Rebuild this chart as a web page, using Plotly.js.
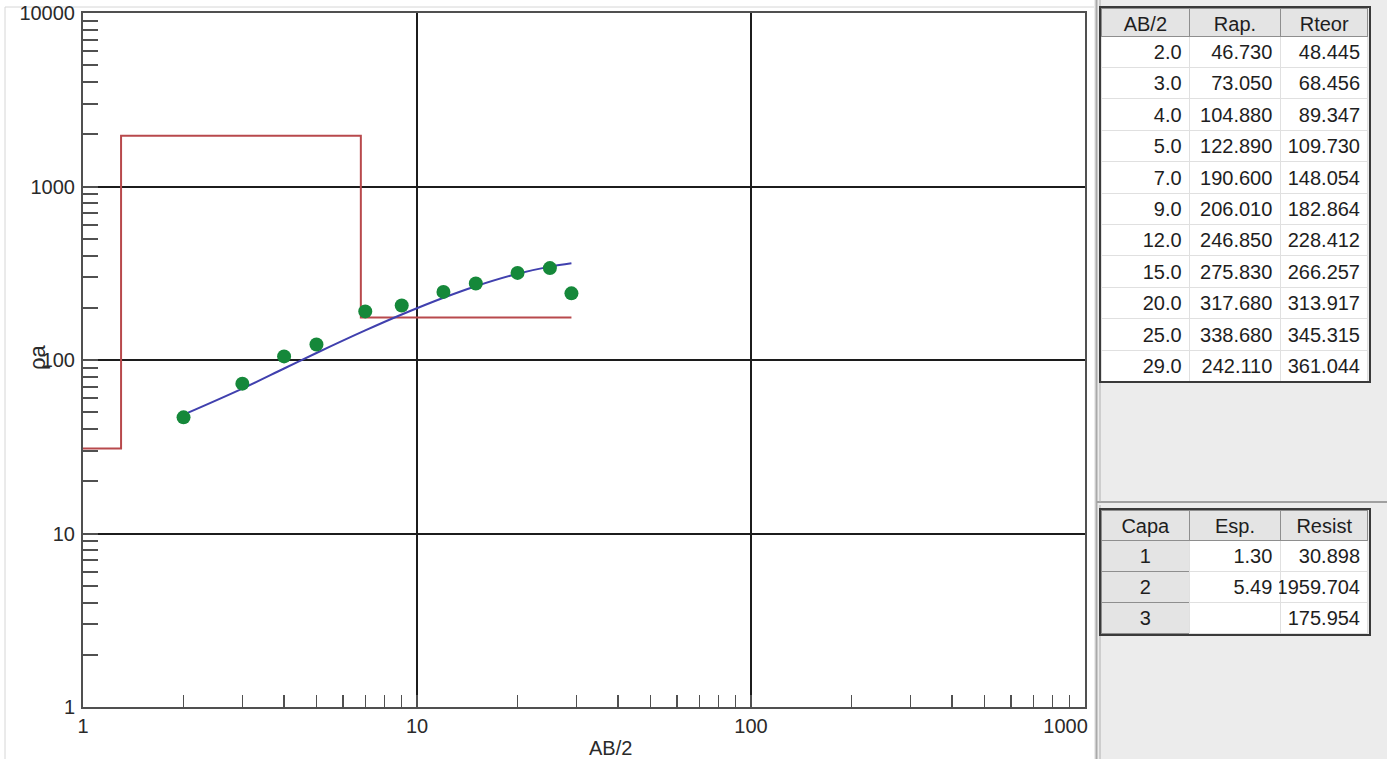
<!DOCTYPE html>
<html>
<head>
<meta charset="utf-8">
<script src="https://cdn.plot.ly/plotly-3.0.1.min.js"></script>
<style>
html,body{margin:0;padding:0;background:#ffffff;}
#chart{width:1387px;height:759px;}
</style>
</head>
<body>
<div id="chart"></div>
<script>
// ---- data ----
const ab2   = [2.0, 3.0, 4.0, 5.0, 7.0, 9.0, 12.0, 15.0, 20.0, 25.0, 29.0];
const rap   = [46.730, 73.050, 104.880, 122.890, 190.600, 206.010, 246.850, 275.830, 317.680, 338.680, 242.110];
const rteor = [48.445, 68.456, 89.347, 109.730, 148.054, 182.864, 228.412, 266.257, 313.917, 345.315, 361.044];

const capa   = [1, 2, 3];
const esp    = [1.30, 5.49, null];
const resist = [30.898, 1959.704, 175.954];

const tableHeaders1 = ['AB/2', 'Rap.', 'Rteor'];
const tableHeaders2 = ['Capa', 'Esp.', 'Resist'];

const xTickVals  = [1, 10, 100, 1000];
const xTickText  = ['1', '10', '100', '1000'];
const yTickVals  = [1, 10, 100, 1000, 10000];
const yTickText  = ['1', '10', '100', '1000', '10000'];
const xTitle = 'AB/2';
const yTitle = 'ρa';

// ---- layer model as a step curve (depth boundaries from thicknesses) ----
const xStart = 1;
const depths = [];
let acc = 0;
esp.forEach(e => { if (e != null) { acc += e; depths.push(acc); } });
const stepX = [xStart], stepY = [resist[0]];
depths.forEach((d, i) => { stepX.push(d, d); stepY.push(resist[i], resist[i + 1]); });
stepX.push(ab2[ab2.length - 1]); stepY.push(resist[resist.length - 1]);

// ---- layout helpers (pixel -> paper) ----
const ML = 83, MR = 0, MT = 0, MB = 52;
const PW = 1387 - ML - MR, PH = 759 - MT - MB;
const px = x => (x - ML) / PW;
const py = y => (PH + MT - y) / PH;

const FONT = 'Liberation Sans, Arial, sans-serif';
const tickFont = {family: FONT, size: 20, color: '#2a2a2a'};
const cellFont = {family: FONT, size: 20, color: '#1e1e1e'};
const NB = '\u00a0';

const traces = [
  {
    type: 'scatter', mode: 'lines', x: stepX, y: stepY,
    line: {color: '#b8494c', width: 2}, hoverinfo: 'skip', name: 'Modelo'
  },
  {
    type: 'scatter', mode: 'lines', x: ab2, y: rteor,
    line: {color: '#4040ae', width: 2, shape: 'spline'}, name: 'Rteor'
  },
  {
    type: 'scatter', mode: 'markers', x: ab2, y: rap,
    marker: {color: '#15883a', size: 14}, name: 'Rap.'
  },
  {
    type: 'table',
    domain: {x: [px(1101), px(1369)], y: [py(420), py(8)]},
    columnwidth: [89, 91, 88],
    header: {
      values: tableHeaders1, height: 28, align: 'center',
      fill: {color: '#e4e4e4'}, line: {color: '#8e8e8e', width: 1}, font: cellFont
    },
    cells: {
      values: [ab2.map(v => v.toFixed(1)), rap.map(v => v.toFixed(3)), rteor.map(v => v.toFixed(3))],
      height: 31.4, align: 'right',
      fill: {color: '#ffffff'}, line: {color: '#e0e0e0', width: 1}, font: cellFont
    }
  },
  {
    type: 'table',
    domain: {x: [px(1101), px(1369)], y: [py(700), py(510)]},
    columnwidth: [89, 91, 88],
    header: {
      values: tableHeaders2, height: 30, align: 'center',
      fill: {color: '#e4e4e4'}, line: {color: '#8e8e8e', width: 1}, font: cellFont
    },
    cells: {
      values: [capa.map(String), esp.map(v => v == null ? '' : v.toFixed(2)), resist.map(v => v.toFixed(3))],
      height: 31, align: ['center', 'right', 'right'],
      fill: {color: [capa.map(() => '#e4e4e4'), capa.map(() => '#ffffff'), capa.map(() => '#ffffff')]},
      line: {color: [capa.map(() => '#8e8e8e'), capa.map(() => '#e0e0e0'), capa.map(() => '#e0e0e0')], width: 1},
      font: cellFont
    }
  }
];

const axisCommon = {
  type: 'log', tickmode: 'array',
  showline: true, linecolor: '#505050', linewidth: 2, mirror: true,
  ticks: 'inside', tickwidth: 2, tickcolor: '#505050',
  showgrid: true, gridcolor: '#1c1c1c', gridwidth: 2, zeroline: false,
  tickfont: tickFont, fixedrange: true
};

const layout = {
  width: 1387, height: 759,
  margin: {l: ML, r: MR, t: MT, b: MB, pad: 0},
  paper_bgcolor: '#ffffff', plot_bgcolor: '#ffffff',
  showlegend: false,
  xaxis: Object.assign({}, axisCommon, {
    range: [0, 3], domain: [0, px(1085)], anchor: 'y', ticklen: 12,
    tickvals: xTickVals,
    ticktext: xTickText.map((t, i) => i === xTickText.length - 1 ? t + NB.repeat(7) : t),
    minor: {dtick: 'D1', ticks: 'inside', ticklen: 12, tickwidth: 1.5, tickcolor: '#505050', showgrid: false}
  }),
  yaxis: Object.assign({}, axisCommon, {
    range: [0, 4], domain: [0, py(13)], anchor: 'x', ticklen: 15,
    tickvals: yTickVals, ticktext: yTickText, ticklabelstandoff: 2,
    minor: {dtick: 'D1', ticks: 'inside', ticklen: 15, tickwidth: 2, tickcolor: '#505050', showgrid: false}
  }),
  annotations: [
    {text: xTitle, xref: 'paper', yref: 'paper', x: px(610), y: py(748), xanchor: 'center', yanchor: 'middle',
     showarrow: false, font: {family: FONT, size: 20, color: '#2a2a2a'}},
    {text: yTitle, xref: 'paper', yref: 'paper', x: px(37), y: py(357), xanchor: 'center', yanchor: 'middle',
     textangle: -90, showarrow: false, font: {family: FONT, size: 22, color: '#2a2a2a'}}
  ],
  shapes: [
    {type: 'rect', xref: 'paper', yref: 'paper', x0: px(1094), x1: 1, y0: py(759), y1: py(0),
     fillcolor: '#ececec', line: {width: 0}, layer: 'below'},
    {type: 'line', xref: 'paper', yref: 'paper', x0: px(1096.5), x1: px(1096.5), y0: py(759), y1: py(0),
     line: {color: '#a9a9a9', width: 2}, layer: 'below'},
    {type: 'line', xref: 'paper', yref: 'paper', x0: px(1097), x1: 1, y0: py(502), y1: py(502),
     line: {color: '#a0a0a0', width: 2}, layer: 'below'},
    {type: 'line', xref: 'paper', yref: 'paper', x0: px(1100), x1: px(1100), y0: py(502), y1: py(0),
     line: {color: '#b0b0b0', width: 1}, layer: 'below'},
    {type: 'line', xref: 'paper', yref: 'paper', x0: px(1100), x1: px(1100), y0: py(759), y1: py(505),
     line: {color: '#b0b0b0', width: 1}, layer: 'below'},
    {type: 'rect', xref: 'paper', yref: 'paper', x0: px(1100), x1: px(1370), y0: py(382), y1: py(7),
     line: {color: '#3a3a3a', width: 2}, layer: 'above'},
    {type: 'rect', xref: 'paper', yref: 'paper', x0: px(1100), x1: px(1370), y0: py(635), y1: py(509),
     line: {color: '#3a3a3a', width: 2}, layer: 'above'},
    {type: 'line', xref: 'paper', yref: 'paper', x0: px(5), x1: px(5), y0: py(759), y1: py(7),
     line: {color: '#d6d6d6', width: 1}, layer: 'below'},
    {type: 'line', xref: 'paper', yref: 'paper', x0: px(5), x1: px(1094), y0: py(7), y1: py(7),
     line: {color: '#d6d6d6', width: 1}, layer: 'below'}
  ]
};

Plotly.newPlot('chart', traces, layout, {displayModeBar: false, staticPlot: true});
</script>
</body>
</html>
